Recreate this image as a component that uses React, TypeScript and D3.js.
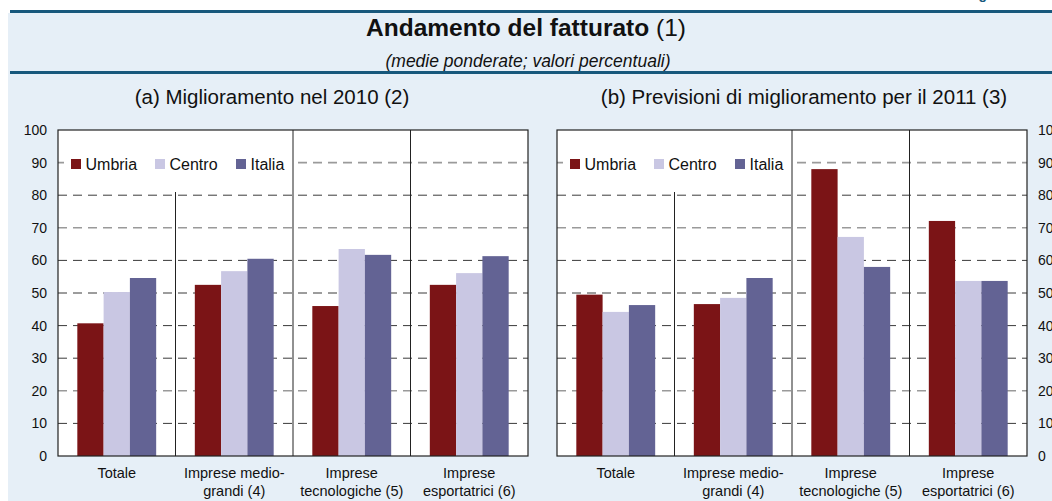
import React from "react";
import * as d3 from "d3";

const categories: string[][] = [
  ["Totale"],
  ["Imprese medio-", "grandi (4)"],
  ["Imprese", "tecnologiche (5)"],
  ["Imprese", "esportatrici (6)"],
];
const seriesNames = ["Umbria", "Centro", "Italia"];
const seriesColors = ["#7b1416", "#c9c7e3", "#636394"];

// panel (a): Miglioramento nel 2010
const umbriaA = [40.7, 52.5, 46.0, 52.5];
const centroA = [50.3, 56.7, 63.5, 56.1];
const italiaA = [54.6, 60.5, 61.7, 61.3];
// panel (b): Previsioni di miglioramento per il 2011
const umbriaB = [49.5, 46.6, 88.0, 72.1];
const centroB = [44.2, 48.5, 67.2, 53.7];
const italiaB = [46.3, 54.6, 58.0, 53.7];

const yTicks = [0, 10, 20, 30, 40, 50, 60, 70, 80, 90, 100];
const grayGrid = [20, 70, 90];

const W = 1052;
const H = 501;
const FONT = "'Liberation Sans', Arial, Helvetica, sans-serif";
const BG = "#e6eff7";
const RULE = "#17587c";

const yTop = 130;
const yBottom = 456;

type PanelProps = {
  x0: number;
  x1: number;
  title: string;
  titleX: number;
  values: number[][];
  axisSide: "left" | "right";
};

function Panel({ x0, x1, title, titleX, values, axisSide }: PanelProps) {
  const y = d3.scaleLinear().domain([0, 100]).range([yBottom, yTop]);
  const catKeys = categories.map((c) => c.join(" "));
  const x = d3.scaleBand<string>().domain(catKeys).range([x0, x1]).paddingInner(0).paddingOuter(0);
  const bw = x.bandwidth();
  const xs = d3.scaleBand<string>().domain(seriesNames).range([0, bw]).paddingInner(0).paddingOuter(0.735);

  return (
    <g>
      <text x={titleX} y={104} textAnchor="middle" fontSize={20.5} fill="#111" fontFamily={FONT}>
        {title}
      </text>
      <rect x={x0} y={yTop} width={x1 - x0} height={yBottom - yTop} fill="#fff" />
      {yTicks
        .filter((t) => t > 0 && t < 100)
        .map((t) => {
          const gray = grayGrid.includes(t);
          return (
            <line
              key={t}
              x1={x0}
              x2={x1}
              y1={y(t)}
              y2={y(t)}
              stroke={gray ? "#9a9a9a" : "#3a3a3a"}
              strokeWidth={gray ? 1.6 : 1}
              strokeDasharray="9,6"
            />
          );
        })}
      {/* legend background */}
      <rect x={x0 + 6} y={140} width={x(catKeys[2])! - x0 - 6} height={50} fill="#fff" />
      {/* separators */}
      {catKeys.slice(1).map((k, i) => (
        <line
          key={k}
          x1={x(k)!}
          x2={x(k)!}
          y1={i === 0 ? 192 : yTop}
          y2={yBottom}
          stroke="#222"
          strokeWidth={1}
        />
      ))}
      {/* bars */}
      {seriesNames.map((s, si) => (
        <g key={s}>
          {values[si].map((v, ci) => (
            <rect
              key={ci}
              x={x(catKeys[ci])! + xs(s)!}
              y={y(v)}
              width={xs.bandwidth()}
              height={y(0) - y(v)}
              fill={seriesColors[si]}
            />
          ))}
        </g>
      ))}
      {/* frame */}
      <rect x={x0} y={yTop} width={x1 - x0} height={yBottom - yTop} fill="none" stroke="#222" strokeWidth={1.2} />
      {/* legend */}
      {seriesNames.map((s, si) => {
        const lx = x0 + [13, 97, 178][si];
        return (
          <g key={s}>
            <rect x={lx} y={159} width={10} height={10} fill={seriesColors[si]} />
            <text x={lx + 14.5} y={169.5} fontSize={16} fill="#111" fontFamily={FONT}>
              {s}
            </text>
          </g>
        );
      })}
      {/* y tick labels */}
      {yTicks.map((t) => (
        <text
          key={t}
          x={axisSide === "left" ? x0 - 11 : x1 + 11}
          y={y(t) + 5}
          textAnchor={axisSide === "left" ? "end" : "start"}
          fontSize={14}
          fill="#111"
          fontFamily={FONT}
        >
          {t}
        </text>
      ))}
      {/* category labels */}
      {categories.map((lines, ci) => (
        <text
          key={ci}
          x={x(catKeys[ci])! + bw / 2}
          y={478}
          textAnchor="middle"
          fontSize={14.5}
          fill="#111"
          fontFamily={FONT}
        >
          {lines.map((l, li) => (
            <tspan key={li} x={x(catKeys[ci])! + bw / 2} dy={li === 0 ? 0 : 18}>
              {l}
            </tspan>
          ))}
        </text>
      ))}
    </g>
  );
}

export default function App() {
  return (
    <svg
      width={W}
      height={H}
      viewBox={`0 0 ${W} ${H}`}
      style={{ position: "absolute", left: 0, top: 0, display: "block", background: "#fff" }}
    >
      <rect x={0} y={0} width={W} height={H} fill="#fff" />
      <rect x={8} y={13} width={W - 8} height={H - 13} fill={BG} />
      <text x={966} y={-1} fontSize={14} fontWeight="bold" fill={RULE} fontFamily={FONT}>
        Figura
      </text>
      <line x1={10} x2={W} y1={11.5} y2={11.5} stroke={RULE} strokeWidth={3} />
      <line x1={10} x2={W} y1={72.5} y2={72.5} stroke={RULE} strokeWidth={3} />
      <text x={526} y={36} textAnchor="middle" fontSize={24.5} fill="#111" fontFamily={FONT}>
        <tspan fontWeight="bold">Andamento del fatturato</tspan>
        <tspan> (1)</tspan>
      </text>
      <text x={528} y={67} textAnchor="middle" fontSize={17.5} fontStyle="italic" fill="#111" fontFamily={FONT}>
        (medie ponderate; valori percentuali)
      </text>
      <Panel
        x0={58}
        x1={528}
        title="(a) Miglioramento nel 2010 (2)"
        titleX={272}
        values={[umbriaA, centroA, italiaA]}
        axisSide="left"
      />
      <Panel
        x0={557}
        x1={1027}
        title="(b) Previsioni di miglioramento per il 2011 (3)"
        titleX={804}
        values={[umbriaB, centroB, italiaB]}
        axisSide="right"
      />
    </svg>
  );
}
